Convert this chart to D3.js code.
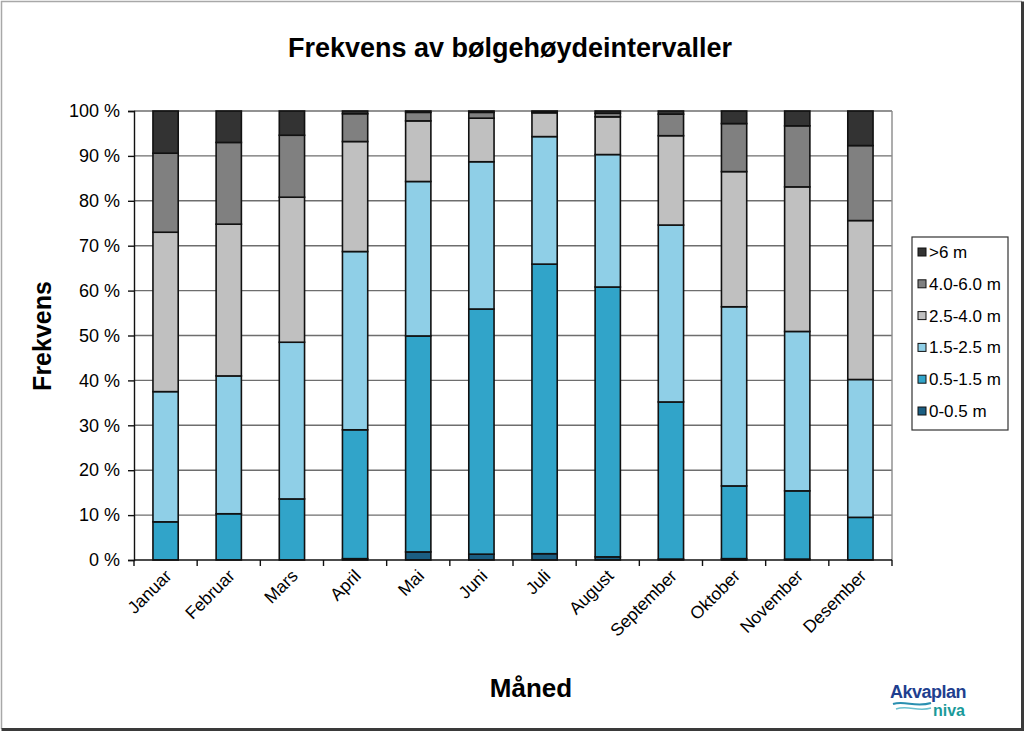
<!DOCTYPE html>
<html><head><meta charset="utf-8">
<script src="https://cdn.jsdelivr.net/npm/d3@7"></script>
<style>body{margin:0;background:#fff}svg{display:block}text{font-family:"Liberation Sans",Arial,sans-serif}</style>
</head><body><div id="c"></div>
<script>
const months = ["Januar","Februar","Mars","April","Mai","Juni","Juli","August","September","Oktober","November","Desember"];
const seriesNames = ["0-0.5 m","0.5-1.5 m","1.5-2.5 m","2.5-4.0 m","4.0-6.0 m",">6 m"];
const s0 = [0, 0, 0, 0.3, 1.8, 1.3, 1.4, 0.7, 0.2, 0.3, 0.2, 0];
const s1 = [8.5, 10.3, 13.6, 28.7, 48.1, 54.6, 64.5, 60.1, 35.0, 16.2, 15.2, 9.5];
const s2 = [29.0, 30.7, 34.9, 39.7, 34.4, 32.8, 28.4, 29.5, 39.4, 39.9, 35.5, 30.7];
const s3 = [35.5, 33.8, 32.3, 24.5, 13.5, 9.7, 5.3, 8.4, 19.9, 30.1, 32.2, 35.4];
const s4 = [17.6, 18.2, 13.8, 6.2, 1.9, 1.3, 0.2, 0.8, 4.8, 10.7, 13.6, 16.7];
const s5 = [9.4, 7.0, 5.4, 0.6, 0.3, 0.3, 0.2, 0.5, 0.7, 2.8, 3.3, 7.7];
const yTicks = [0,10,20,30,40,50,60,70,80,90,100];
const colors = ["#1b5e82","#31a4c9","#8fcfe7","#c0c0c0","#808080","#333333"];

const W=1024,H=731;
const m={l:134,r:1024-892,t:111,b:731-560};
const svg=d3.select("#c").append("svg").attr("width",W).attr("height",H);
svg.append("rect").attr("x",0).attr("y",0).attr("width",W).attr("height",H).attr("fill","#fff");
// frame
svg.append("path").attr("d",`M1.5,${H-2} L1.5,1.5 L${W-2},1.5`).attr("fill","none").attr("stroke","#a8a8a8").attr("stroke-width",1.5);
svg.append("path").attr("d",`M1.5,${H-1.5} L${W-1.5},${H-1.5} L${W-1.5},1.5`).attr("fill","none").attr("stroke","#3a3a3a").attr("stroke-width",3);

const vals=[s0,s1,s2,s3,s4,s5];
const rows=months.map((mo,i)=>{const r={month:mo};seriesNames.forEach((s,j)=>r[s]=vals[j][i]);return r;});
const stack=d3.stack().keys(seriesNames)(rows);

const x=d3.scaleBand().domain(months).range([m.l,W-m.r]).paddingInner(0.6).paddingOuter(0.3);
const y=d3.scaleLinear().domain([0,100]).range([H-m.b,m.t]);

// gridlines
svg.append("g").selectAll("line").data(yTicks.filter(d=>d>0)).join("line")
 .attr("x1",m.l).attr("x2",W-m.r).attr("y1",d=>y(d)).attr("y2",d=>y(d))
 .attr("stroke","#6e6e6e").attr("stroke-width",1.4);
// plot right border
svg.append("line").attr("x1",W-m.r).attr("x2",W-m.r).attr("y1",m.t).attr("y2",H-m.b).attr("stroke","#8a8a8a").attr("stroke-width",1.4);

// bars
svg.append("g").selectAll("g").data(stack).join("g").attr("fill",(d,i)=>colors[i])
 .selectAll("rect").data(d=>d).join("rect")
 .attr("x",d=>x(d.data.month)).attr("width",x.bandwidth())
 .attr("y",d=>y(d[1])).attr("height",d=>Math.max(0,y(d[0])-y(d[1])))
 .attr("stroke","#111").attr("stroke-width",1.6);

// y axis
const ya=svg.append("g").attr("transform",`translate(${m.l},0)`)
 .call(d3.axisLeft(y).tickValues(yTicks).tickFormat(d=>d+" %").tickSize(6).tickPadding(8));
ya.select(".domain").attr("stroke","#111").attr("stroke-width",1.4);
ya.selectAll(".tick line").attr("stroke","#111").attr("stroke-width",1.4);
ya.selectAll("text").attr("font-size",18).attr("fill","#000").attr("font-family","Liberation Sans, Arial");

// x axis
const bounds=d3.range(months.length+1).map(i=>m.l+i*(W-m.l-m.r)/months.length);
svg.append("line").attr("x1",m.l).attr("x2",W-m.r).attr("y1",y(0)).attr("y2",y(0)).attr("stroke","#111").attr("stroke-width",1.4);
svg.append("g").selectAll("line").data(bounds).join("line")
 .attr("x1",d=>d).attr("x2",d=>d).attr("y1",y(0)).attr("y2",y(0)+6).attr("stroke","#111").attr("stroke-width",1.4);
svg.append("g").selectAll("text").data(months).join("text")
 .attr("transform",d=>`translate(${x(d)+x.bandwidth()/2+7},${y(0)+17}) rotate(-45)`)
 .attr("text-anchor","end").attr("font-size",17.5).text(d=>d);

// titles
svg.append("text").attr("x",510).attr("y",57).attr("text-anchor","middle").attr("font-size",27).attr("font-weight","bold").text("Frekvens av bølgehøydeintervaller");
svg.append("text").attr("transform","translate(51,336) rotate(-90)").attr("text-anchor","middle").attr("font-size",25).attr("font-weight","bold").text("Frekvens");
svg.append("text").attr("x",531).attr("y",697).attr("text-anchor","middle").attr("font-size",26).attr("font-weight","bold").text("Måned");

// legend
const lg=svg.append("g");
lg.append("rect").attr("x",912).attr("y",237).attr("width",96).attr("height",193).attr("fill","#fff").attr("stroke","#333").attr("stroke-width",1.2);
const legOrder=seriesNames.map((s,i)=>({s,i})).reverse();
const li=lg.selectAll("g").data(legOrder).join("g").attr("transform",(d,k)=>`translate(918,${254+k*31.8})`);
li.append("rect").attr("x",0).attr("y",-6).attr("width",8).attr("height",8).attr("fill",d=>colors[d.i]).attr("stroke","#111").attr("stroke-width",1);
li.append("text").attr("x",11).attr("y",4).attr("font-size",17).text(d=>d.s);

// logo
const logo=svg.append("g");
logo.append("text").attr("x",890).attr("y",698).attr("font-size",18).attr("font-weight","bold").attr("fill","#1f3f8f").attr("letter-spacing","-0.5").text("Akvaplan");
logo.append("text").attr("x",933).attr("y",716).attr("font-size",16).attr("font-weight","bold").attr("fill","#1a9a9a").text("niva");
logo.append("path").attr("d","M893,704 C905,700 915,708 931,703").attr("fill","none").attr("stroke","#2a8fb0").attr("stroke-width",2);
logo.append("path").attr("d","M896,709 C908,705 918,712 931,708").attr("fill","none").attr("stroke","#6cc0cf").attr("stroke-width",1.5);
</script></body></html>
